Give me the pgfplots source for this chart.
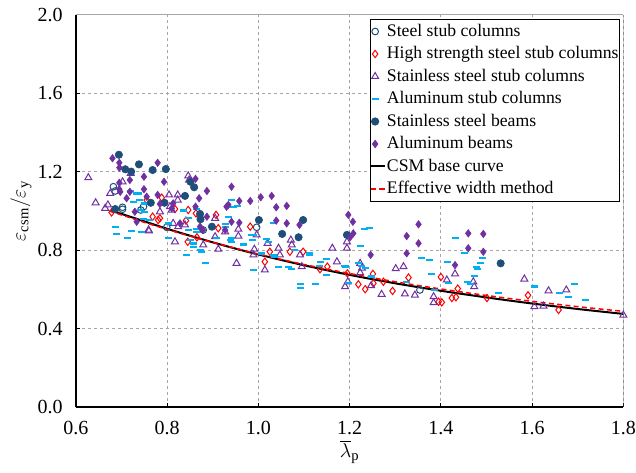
\documentclass[border=0pt]{standalone}
\usepackage{fontspec}
\setmainfont{Liberation Serif}
\usepackage{pgfplots}
\pgfplotsset{compat=1.18}
\definecolor{navy}{HTML}{1F4E79}
\definecolor{purp}{HTML}{7030A0}
\definecolor{cyanb}{HTML}{00B0F0}
\definecolor{gridgray}{HTML}{A6A6A6}

\begin{document}
\begin{tikzpicture}
\begin{axis}[
  scale only axis, width=328.4pt, height=235.2pt,
  xmin=0.6, xmax=1.8, ymin=0, ymax=2,
  xtick={0.6,0.8,1.0,1.2,1.4,1.6,1.8},
  ytick={0,0.4,0.8,1.2,1.6,2.0},
  /pgf/number format/assume math mode=true,
  tick label style={font=\fontsize{12}{14}\selectfont,
    /pgf/number format/fixed, /pgf/number format/fixed zerofill,
    /pgf/number format/precision=1},
  xticklabel style={yshift=-5pt},
  yticklabel style={xshift=-4.5pt},
  axis x line*=bottom, axis y line*=left,
  axis line style={line width=1.2pt},
  tick align=inside, major tick length=2.4pt,
  tick style={black, line width=0.6pt},
  grid=major, grid style={gridgray, line width=0.6pt, dash pattern=on 1.8pt off 1.8pt},
  every axis y label/.style={at={(axis description cs:0,0.5)},xshift=-33pt,rotate=90,anchor=center},
  every axis x label/.style={at={(axis description cs:0.5,0)},yshift=-27pt,anchor=center},
  ylabel={\fontsize{12.5}{14}\selectfont$\varepsilon_{\mathrm{csm}}/\varepsilon_{\mathrm{y}}$},
  xlabel={\fontsize{12.5}{14}\selectfont$\overline{\lambda}_{\mathrm{p}}$},
  legend style={at={(1,1)}, anchor=north east, xshift=-2pt, yshift=-2.4pt,
    draw=black, line width=0.5pt, fill=white, font=\fontsize{10.6}{12}\selectfont,
    inner xsep=0pt, inner ysep=1pt, row sep=1.0pt,
    nodes={inner sep=0.6pt, text height=8.5pt, text depth=2.8pt}},
  legend cell align=left,
  legend image code/.code={\draw[mark repeat=2,mark phase=2,#1] plot coordinates {(0pt,0pt) (2.5pt,0pt) (8.4pt,0pt)};},
]
% steel stub columns
\addplot[only marks, mark=o, mark size=2pt, navy, line width=0.6pt] coordinates {
(0.682,1.124)(0.686,1.102)(0.702,1.019)(0.702,1.009)(0.748,1.022)(0.742,1.005)
(0.799,0.917)(0.879,0.903)(0.996,0.917)(1.354,0.597)};
% high strength steel stub columns
\addplot[only marks, mark=diamond, mark size=2.2pt, red, line width=0.6pt] coordinates {
(0.678,0.993)(0.755,1.056)(0.788,1.068)(0.817,1.010)(0.768,0.971)(0.780,0.954)
(0.784,0.963)(0.846,1.005)(0.841,0.951)(0.863,0.988)(0.907,0.980)(0.912,0.912)
(0.845,0.843)(0.865,0.866)(0.982,0.920)(1.014,0.741)(1.025,0.792)(1.069,0.792)
(1.098,0.792)(1.135,0.703)(1.151,0.716)(1.195,0.682)(1.219,0.626)(1.234,0.601)
(1.251,0.679)(1.252,0.631)(1.274,0.639)(1.294,0.592)(1.329,0.660)(1.400,0.663)
(1.437,0.604)(1.424,0.556)(1.433,0.560)(1.395,0.537)(1.402,0.534)(1.501,0.556)
(1.591,0.570)(1.658,0.495)};
% stainless steel stub columns
\addplot[only marks, mark=triangle, mark size=2.4pt, purp, line width=0.6pt] coordinates {
(0.627,1.170)(0.643,1.042)(0.664,1.014)(0.670,1.031)(0.675,1.090)(0.702,1.149)
(0.720,1.192)(0.759,0.903)(0.784,0.996)(0.804,1.082)(0.823,1.082)(0.823,1.056)
(0.846,1.179)(0.848,1.158)(0.817,0.843)(0.879,0.827)(0.912,0.805)(0.952,0.733)
(0.905,0.963)(0.956,0.907)(0.956,0.872)(0.989,0.776)(0.806,1.022)(0.810,1.005)
(0.905,0.869)(0.927,0.894)(0.991,0.805)(0.839,0.929)(0.824,0.920)(0.813,0.937)
(0.996,0.878)(1.014,0.699)(1.020,0.835)(1.044,0.810)(1.047,0.776)(1.071,0.852)
(1.073,0.827)(1.091,0.776)(1.095,0.716)(1.162,0.810)(1.172,0.741)(1.194,0.843)
(1.194,0.810)(1.190,0.614)(1.196,0.639)(1.223,0.733)(1.227,0.708)(1.223,0.685)
(1.247,0.619)(1.270,0.575)(1.301,0.706)(1.318,0.716)(1.321,0.577)(1.343,0.571)
(1.384,0.563)(1.384,0.532)(1.413,0.648)(1.431,0.679)(1.471,0.639)(1.473,0.614)
(1.583,0.653)(1.605,0.512)(1.625,0.515)(1.636,0.593)(1.675,0.597)(1.800,0.469)
(0.760,0.899)};
% aluminum stub columns
\addplot[only marks, mark=-, mark size=2.1pt, cyanb, line width=1.4pt] coordinates {
(0.738,1.090)(0.720,1.102)(0.733,1.090)(0.739,1.056)(0.727,1.047)(0.751,1.039)
(0.751,0.996)(0.748,0.958)(0.742,1.005)(0.686,0.917)(0.688,0.883)(0.713,0.861)
(0.722,0.898)(0.744,0.894)(0.762,0.954)(0.802,0.937)(0.802,0.861)(0.843,0.776)
(0.846,0.903)(0.857,0.835)(0.872,0.801)(0.884,0.736)(0.909,0.861)(0.927,0.932)
(0.927,0.920)(0.941,1.056)(0.945,1.022)(0.941,0.843)(0.967,0.827)(0.989,0.699)
(0.985,0.878)(0.846,0.963)(0.865,1.009)(0.955,1.026)(0.835,1.002)(0.865,0.907)
(0.865,0.894)(0.934,0.968)(0.941,0.861)(0.938,0.852)(0.968,0.830)(0.989,0.878)
(0.987,0.852)(0.876,0.792)(0.850,0.852)(0.857,0.818)(1.033,0.940)(1.018,0.856)
(1.022,0.843)(1.033,0.776)(1.035,0.767)(1.044,0.713)(1.066,0.713)(1.073,0.703)
(1.080,0.801)(1.093,0.626)(1.093,0.606)(1.126,0.628)(1.113,0.776)(1.111,0.784)
(1.135,0.741)(1.133,0.719)(1.150,0.755)(1.150,0.673)(1.188,0.719)(1.197,0.631)
(1.007,0.784)(1.232,0.907)(1.243,0.913)(1.223,0.821)(1.219,0.733)(1.227,0.719)
(1.234,0.708)(1.248,0.665)(1.358,0.759)(1.376,0.750)(1.379,0.677)(1.325,0.639)
(1.190,0.716)(1.387,0.597)(1.431,0.861)(1.452,0.787)(1.415,0.741)(1.486,0.736)
(1.491,0.760)(1.479,0.713)(1.481,0.703)(1.473,0.668)(1.459,0.639)(1.464,0.628)
(1.416,0.631)(1.526,0.583)(1.605,0.614)(1.661,0.583)(1.680,0.560)(1.694,0.628)
(1.718,0.546)};
% stainless steel beams
\addplot[only marks, mark=*, mark size=2.2pt, navy, mark options={fill=navy}] coordinates {
(0.694,1.287)(0.738,1.238)(0.708,1.213)(0.721,1.201)(0.768,1.209)(0.797,1.214)
(0.851,1.149)(0.859,1.121)(0.839,1.077)(0.764,1.042)(0.794,1.042)(0.686,1.010)
(0.872,0.985)(0.873,0.958)(0.898,0.920)(1.001,0.954)(1.098,0.954)(1.052,0.883)
(1.088,0.866)(1.194,0.878)(1.531,0.733)};
% aluminum beams
\addplot[only marks, mark=diamond*, mark size=2.2pt, purp, mark options={fill=purp}] coordinates {
(0.680,1.269)(0.695,1.246)(0.695,1.221)(0.779,1.246)(0.718,1.158)(0.749,1.175)
(0.793,1.149)(0.695,1.144)(0.695,1.111)(0.697,1.098)(0.718,1.098)(0.749,1.111)
(0.711,1.065)(0.755,1.073)(0.779,1.082)(0.887,1.102)(0.941,1.124)(0.870,1.065)
(0.958,1.051)(0.982,1.051)(0.930,1.022)(0.887,0.971)(0.941,0.945)(0.958,0.940)
(0.813,1.039)(0.810,1.014)(0.784,1.036)(0.729,0.996)(0.733,0.945)(0.872,0.920)
(0.878,0.903)(0.828,0.937)(0.927,0.903)(1.005,1.070)(1.029,1.077)(1.039,1.019)
(1.062,1.026)(1.039,0.951)(1.062,0.937)(1.090,0.929)(1.197,0.980)(1.207,0.945)
(1.208,0.886)(1.201,0.866)(1.246,0.776)(1.325,0.872)(1.351,0.932)(1.351,0.835)
(1.325,0.784)(1.460,0.886)(1.493,0.883)(1.460,0.810)(1.493,0.792)(1.431,0.724)
(0.862,1.164)(0.862,1.022)(0.934,1.031)};
% CSM base curve
\addplot[black, line width=1.2pt, smooth, no marks] coordinates {
(0.677,1.000)(0.70,0.985)(0.75,0.947)(0.80,0.909)(0.85,0.874)(0.90,0.840)
(0.95,0.808)(1.00,0.778)(1.10,0.723)(1.20,0.674)(1.30,0.631)(1.40,0.593)
(1.50,0.559)(1.60,0.528)(1.70,0.500)(1.80,0.475)};
% effective width method
\addplot[red, line width=0.9pt, smooth, no marks, dash pattern=on 3pt off 2pt] coordinates {
(0.673,1.000)(0.70,0.980)(0.75,0.942)(0.80,0.906)(0.85,0.872)(0.90,0.840)
(0.95,0.809)(1.00,0.780)(1.10,0.727)(1.20,0.681)(1.30,0.639)(1.40,0.602)
(1.50,0.569)(1.60,0.539)(1.70,0.512)(1.80,0.488)};
\legend{Steel stub columns,High strength steel stub columns,Stainless steel stub columns,Aluminum stub columns,Stainless steel beams,Aluminum beams,CSM base curve,Effective width method}
\draw[gridgray, line width=0.6pt] (rel axis cs:0,1) -- (rel axis cs:1,1);
\draw[gridgray!60!black, line width=1pt] (rel axis cs:1,1) -- (rel axis cs:1,0);
\coordinate (SW) at (rel axis cs:0,0);
\coordinate (NE) at (rel axis cs:1,1);
\end{axis}
\pgfresetboundingbox
\useasboundingbox ([xshift=-45.6pt,yshift=-39pt]SW) rectangle ([xshift=7.6pt,yshift=9pt]NE);
\end{tikzpicture}
\end{document}
